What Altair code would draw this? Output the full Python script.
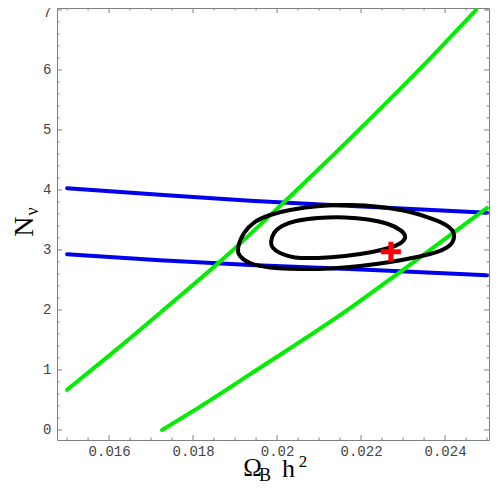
import altair as alt
import pandas as pd

# ---------------- data ----------------
green1_x = [0.0150, 0.0160, 0.01726, 0.01895, 0.02014, 0.02095, 0.02264, 0.02371, 0.02474]
green1_y = [0.67, 1.24, 1.98, 3.00, 3.78, 4.32, 5.48, 6.24, 7.00]

green2_x = [0.01726, 0.01833, 0.01936, 0.02174, 0.02300, 0.02500]
green2_y = [0.00, 0.46, 0.93, 2.03, 2.67, 3.70]

blue1_x = [0.0150, 0.01721, 0.01936, 0.02214, 0.0250]
blue1_y = [4.03, 3.92, 3.82, 3.72, 3.62]

blue2_x = [0.0150, 0.01721, 0.01936, 0.02214, 0.0250]
blue2_y = [2.93, 2.83, 2.75, 2.67, 2.58]

outer_x = [0.019071, 0.019214, 0.019476, 0.019833, 0.020310, 0.021024, 0.021738,
           0.022452, 0.023167, 0.023762, 0.024119, 0.024214, 0.024119, 0.023810,
           0.023333, 0.022690, 0.021976, 0.021262, 0.020548, 0.019833, 0.019357,
           0.019119]
outer_y = [3.033, 3.283, 3.467, 3.583, 3.667, 3.733, 3.750, 3.717, 3.633, 3.500,
           3.367, 3.233, 3.083, 2.967, 2.883, 2.800, 2.733, 2.692, 2.683, 2.708,
           2.783, 2.900]

inner_x = [0.019857, 0.019929, 0.020119, 0.020452, 0.020976, 0.021619, 0.022167,
           0.022643, 0.022929, 0.023048, 0.022976, 0.022738, 0.022262, 0.021619,
           0.020976, 0.020429, 0.020071, 0.019905]
inner_y = [3.133, 3.283, 3.400, 3.483, 3.533, 3.542, 3.508, 3.433, 3.333, 3.233,
           3.133, 3.050, 2.967, 2.900, 2.867, 2.875, 2.950, 3.033]

best_x = [0.02271]
best_y = [2.97]

x_major = [0.016, 0.018, 0.020, 0.022, 0.024]
x_minor = [0.015, 0.0155, 0.0165, 0.017, 0.0175, 0.0185, 0.019, 0.0195, 0.0205,
           0.021, 0.0215, 0.0225, 0.023, 0.0235, 0.0245, 0.025]
y_major = [0, 1, 2, 3, 4, 5, 6, 7]
y_minor = [round(i * 0.2, 1) for i in range(1, 35) if i % 5 != 0]

x_title_parts = ["Ω", "B", "h", "2"]
y_title_parts = ["N", "ν"]

# ---------------- layout ----------------
W, H = 432, 432
xscale = alt.Scale(domain=[0.01476, 0.025046], nice=False, zero=False)
yscale = alt.Scale(domain=[-0.167, 7.033], nice=False, zero=False)

frame_col = "#808080"
label_col = "#444444"

xaxis = alt.Axis(values=x_major, format="~g", domain=False, ticks=False, grid=False,
                 labelFont="Liberation Mono", labelFontSize=14, labelColor=label_col,
                 labelPadding=4, title=None)
yaxis = alt.Axis(values=y_major, format="d", domain=False, ticks=False, grid=False,
                 labelFont="Liberation Mono", labelFontSize=14, labelColor=label_col,
                 labelPadding=6, title=None,
                 labelOffset={"condition": {"test": "datum.value == 7", "value": 3},
                              "value": 0})


def X(field):
    return alt.X(field, scale=xscale, axis=xaxis, title=None)


def Y(field):
    return alt.Y(field, scale=yscale, axis=yaxis, title=None)


def series_df(xs, ys, name):
    return pd.DataFrame({"x": xs, "y": ys, "s": name, "o": list(range(len(xs)))})


lines_df = pd.concat([
    series_df(blue1_x, blue1_y, "b1"),
    series_df(blue2_x, blue2_y, "b2"),
    series_df(green1_x, green1_y, "g1"),
    series_df(green2_x, green2_y, "g2"),
])
cont_df = pd.concat([
    series_df(outer_x, outer_y, "outer"),
    series_df(inner_x, inner_y, "inner"),
])

lines = alt.Chart(lines_df).mark_line(strokeWidth=4, interpolate="monotone",
                                       strokeCap="round").encode(
    x=X("x:Q"),
    y=Y("y:Q"),
    color=alt.Color("s:N", scale=alt.Scale(domain=["b1", "b2", "g1", "g2"],
                                           range=["#0000ee", "#0000ee", "#00ee00", "#00ee00"]),
                    legend=None),
    order="o:Q",
)

contours = alt.Chart(cont_df).mark_line(strokeWidth=4, interpolate="cardinal-closed",
                                         color="black").encode(
    x=X("x:Q"),
    y=Y("y:Q"),
    detail="s:N",
    order="o:Q",
)

best = alt.Chart(pd.DataFrame({"x": best_x, "y": best_y})).mark_point(
    shape="M-1,0L1,0M0,-1L0,1", size=400, stroke="#ff0000", strokeWidth=5,
    filled=False, opacity=1).encode(
    x=X("x:Q"),
    y=Y("y:Q"),
)


def xticks(vals, L):
    d = pd.DataFrame({"x": vals})
    bottom = alt.Chart(d).mark_rule(color=frame_col, strokeWidth=1).encode(
        x=X("x:Q"), y=alt.value(H), y2=alt.value(H - L))
    top = alt.Chart(d).mark_rule(color=frame_col, strokeWidth=1).encode(
        x=X("x:Q"), y=alt.value(0), y2=alt.value(L))
    return [bottom, top]


def yticks(vals, L):
    d = pd.DataFrame({"y": vals})
    left = alt.Chart(d).mark_rule(color=frame_col, strokeWidth=1).encode(
        y=Y("y:Q"), x=alt.value(0), x2=alt.value(L))
    right = alt.Chart(d).mark_rule(color=frame_col, strokeWidth=1).encode(
        y=Y("y:Q"), x=alt.value(W), x2=alt.value(W - L))
    return [left, right]


tick_layers = xticks(x_major, 5) + xticks(x_minor, 2.5) + yticks(y_major, 5) + yticks(y_minor, 2.5)


def text_part(t, px, py, size, angle=0):
    return alt.Chart(pd.DataFrame({"t": [t]})).mark_text(
        font="Liberation Serif", fontSize=size, color="black", align="center",
        baseline="alphabetic", angle=angle).encode(
        text="t:N", x=alt.value(px), y=alt.value(py))


titles = [
    text_part(x_title_parts[0], 195.5, 468, 25),
    text_part(x_title_parts[1], 208, 473, 18),
    text_part(x_title_parts[2], 231.5, 469, 26),
    text_part(x_title_parts[3], 246, 459, 17),
    text_part(y_title_parts[0], -24.5, 218.7, 28, angle=270),
    text_part(y_title_parts[1], -19.5, 203.5, 18, angle=270),
]

chart = alt.layer(lines, contours, best, *tick_layers, *titles).properties(
    width=W, height=H,
    autosize=alt.AutoSizeParams(type="none"),
    padding={"left": 49, "top": 0, "right": 1, "bottom": 43},
).configure_view(stroke=frame_col, strokeWidth=1)

chart.save("out.html", embed_options={"renderer": "svg", "actions": False})
